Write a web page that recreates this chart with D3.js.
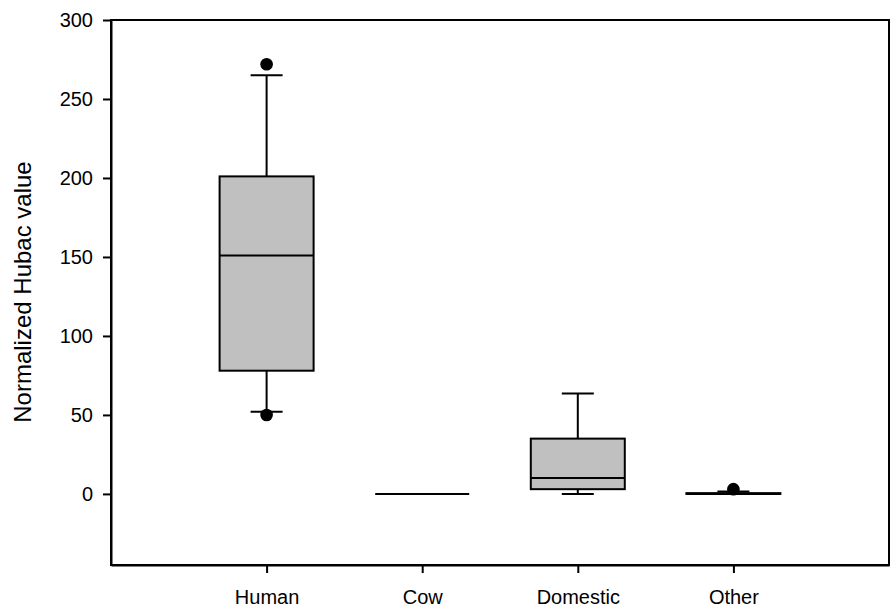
<!DOCTYPE html>
<html>
<head>
<meta charset="utf-8">
<script src="https://cdn.jsdelivr.net/npm/d3@7"></script>
<style>
  body { margin: 0; background: #fff; }
  svg text { font-family: "Liberation Sans", Arial, sans-serif; fill: #000; }
</style>
</head>
<body>
<svg id="chart" width="890" height="613"></svg>
<script>
// Box plot data
const categories = ['Human', 'Cow', 'Domestic', 'Other'];
const whiskerLow = [52, 0, 0, 0];
const q1Values = [78, 0, 3, 0];
const medians = [151, 0, 10, 0];
const q3Values = [201, 0, 35, 0.5];
const whiskerHigh = [265, 0, 63.5, 1.5];
const outliers = [[272, 50], [], [], [3]];
const yTicks = [0, 50, 100, 150, 200, 250, 300];

const svg = d3.select('#chart');
const plotLeft = 111, plotRight = 889, plotTop = 20, plotBottom = 565;

const x = d3.scalePoint().domain(categories).range([plotLeft, plotRight]).padding(1);
const y = d3.scaleLinear().domain([-45, 300]).range([plotBottom, plotTop]);

const boxW = 94, capW = 32;

// frame
svg.append('rect')
    .attr('x', plotLeft).attr('y', plotTop)
    .attr('width', plotRight - plotLeft).attr('height', plotBottom - plotTop)
    .attr('fill', 'none').attr('stroke', '#000').attr('stroke-width', 2);

const data = categories.map((c, i) => ({
    cat: c, lo: whiskerLow[i], q1: q1Values[i], med: medians[i],
    q3: q3Values[i], hi: whiskerHigh[i], out: outliers[i]
}));

const g = svg.append('g');
data.forEach(d => {
    const cx = x(d.cat);
    // whiskers
    g.append('line').attr('x1', cx).attr('x2', cx).attr('y1', y(d.q3)).attr('y2', y(d.hi))
        .attr('stroke', '#000').attr('stroke-width', 2);
    g.append('line').attr('x1', cx).attr('x2', cx).attr('y1', y(d.q1)).attr('y2', y(d.lo))
        .attr('stroke', '#000').attr('stroke-width', 2);
    [d.lo, d.hi].forEach(v => {
        g.append('line').attr('x1', cx - capW / 2).attr('x2', cx + capW / 2)
            .attr('y1', y(v)).attr('y2', y(v))
            .attr('stroke', '#000').attr('stroke-width', 2);
    });
    // box
    g.append('rect')
        .attr('x', cx - boxW / 2).attr('width', boxW)
        .attr('y', y(d.q3)).attr('height', Math.max(0, y(d.q1) - y(d.q3)))
        .attr('fill', '#c0c0c0').attr('stroke', '#000').attr('stroke-width', 2);
    // median
    g.append('line').attr('x1', cx - boxW / 2).attr('x2', cx + boxW / 2)
        .attr('y1', y(d.med)).attr('y2', y(d.med))
        .attr('stroke', '#000').attr('stroke-width', 2);
    // outliers
    d.out.forEach(v => {
        g.append('circle').attr('cx', cx).attr('cy', y(v)).attr('r', 6.3).attr('fill', '#000');
    });
});

// axes
const yAxis = svg.append('g')
    .attr('transform', `translate(${plotLeft},0)`)
    .call(d3.axisLeft(y).tickValues(yTicks).tickSize(8).tickSizeOuter(0).tickPadding(10));
const xAxis = svg.append('g')
    .attr('transform', `translate(0,${plotBottom})`)
    .call(d3.axisBottom(x).tickSize(8).tickSizeOuter(0).tickPadding(17));

[yAxis, xAxis].forEach(a => {
    a.select('.domain').attr('stroke', '#000').attr('stroke-width', 2);
    a.selectAll('.tick line').attr('stroke', '#000').attr('stroke-width', 2);
    a.selectAll('.tick text').attr('font-size', 20).attr('fill', '#000')
        .attr('font-family', '"Liberation Sans", Arial, sans-serif');
});

svg.append('text')
    .attr('transform', 'translate(31,292) rotate(-90)')
    .attr('text-anchor', 'middle')
    .attr('font-size', 24)
    .text('Normalized Hubac value');
</script>
</body>
</html>
